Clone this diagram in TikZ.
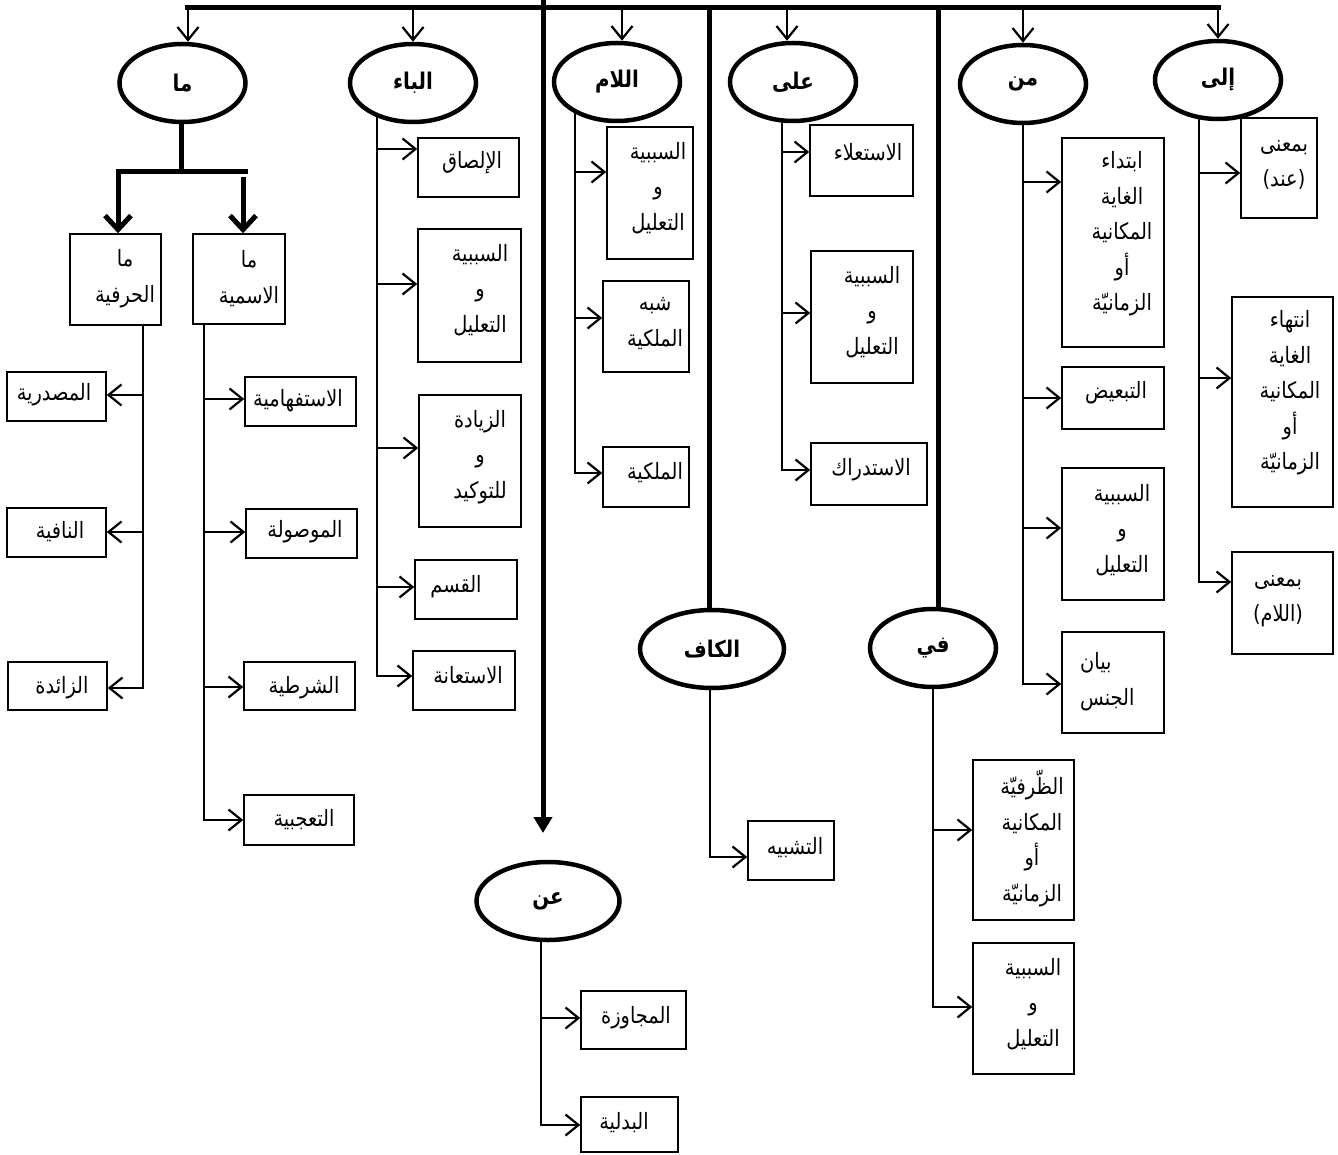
\documentclass[tikz,border=0pt]{standalone}
\usepackage{fontspec}
\usetikzlibrary{shapes.geometric,arrows.meta,backgrounds}
\TeXXeTstate=1
\newfontfamily\arabicfont[Script=Arabic,FakeStretch=0.86]{DejaVu Sans}
\newcommand\AR[1]{\beginR#1\endR}
\newcommand\mkbox[5]{\node[box, minimum width={(#4-#2)*1pt}, minimum height={(#5-#3)*1pt}] (#1) at ({(#2+#4)/2},{(#3+#5)/2}) {};}
% arrow from trunk coordinate #1 to west side of box #2, shifted up by #3
\newcommand\brR[3]{\coordinate (tmp) at ([yshift=#3pt]#2.west); \draw[conn] (tmp -| #1) -- (tmp);}
\newcommand\brL[3]{\coordinate (tmp) at ([yshift=#3pt]#2.east); \draw[conn] (tmp -| #1) -- (tmp);}
\newcommand\brRend[4]{\coordinate (tmp) at ([yshift=#4pt]#3.west); \draw[conn] (#1) |- (tmp);}
\newcommand\brLend[4]{\coordinate (tmp) at ([yshift=#4pt]#3.east); \draw[conn] (#1) |- (tmp);}
\tikzset{
 lemma/.style={ellipse, draw, line width=4.5pt, fill=white, minimum width=126pt, minimum height=78pt, inner sep=0pt, font=\arabicfont\bfseries\fontsize{23}{26}\selectfont},
 box/.style={draw, line width=1.5pt, inner sep=0pt, fill=white},
 lbl/.style={font=\arabicfont\fontsize{22.5}{35.5}\selectfont, align=center, inner sep=0pt},
 conn/.style={line width=2pt, -{Straight Barb[length=13pt,width=21pt,line width=2.2pt]}},
 thk/.style={line width=5pt},
 thkarr/.style={line width=5pt, -{Straight Barb[length=14pt,width=26pt,line width=5pt]}},
 fillarr/.style={line width=5pt, -{Triangle[length=16pt,width=18pt]}},
}
\begin{document}
\begin{tikzpicture}[x=1pt,y=-1pt]
\useasboundingbox (0,0) rectangle (1338,1155);
% ---- ellipses
\node[lemma] (ma) at (182.5,83) {\AR{ما}};
\node[lemma] (baa) at (413,83) {\AR{الباء}};
\node[lemma] (lam) at (617,82) {\AR{اللام}};
\node[lemma] (ala) at (793,82) {\AR{على}};
\node[lemma] (min) at (1023,84) {\AR{من}};
\node[lemma] (ila) at (1218,80) {\AR{إلى}};
\node[lemma, minimum width=144pt] (kaf) at (712,649) {\AR{الكاف}};
\node[lemma] (fi) at (933,648) {\AR{في}};
\node[lemma, minimum width=143pt] (an) at (548,901) {\AR{عن}};
% ---- boxes
\mkbox{hrf}{70}{234}{161}{325}
\mkbox{ism}{193}{234}{285}{324}
\mkbox{masd}{7}{372}{106}{421}
\mkbox{nafy}{7}{508}{106}{557}
\mkbox{zaid}{8}{662}{107}{710}
\mkbox{istf}{245}{377}{356}{426}
\mkbox{mawl}{246}{509}{357}{558}
\mkbox{shrt}{244}{662}{355}{710}
\mkbox{taaj}{244}{795}{354}{845}
\mkbox{ilsq}{418}{138}{519}{197}
\mkbox{bsab}{418}{229}{521}{362}
\mkbox{zyd}{419}{395}{521}{527}
\mkbox{qsm}{415}{560}{517}{619}
\mkbox{istn}{413}{651}{515}{710}
\mkbox{lsab}{607}{127}{693}{259}
\mkbox{shbh}{603}{281}{689}{372}
\mkbox{mlk}{603}{447}{689}{507}
\mkbox{istl}{810}{125}{913}{196}
\mkbox{asab}{811}{251}{913}{383}
\mkbox{istd}{811}{443}{927}{505}
\mkbox{ibtd}{1062}{138}{1164}{347}
\mkbox{tbd}{1062}{367}{1164}{429}
\mkbox{msab}{1062}{468}{1164}{600}
\mkbox{bayn}{1062}{632}{1164}{733}
\mkbox{inda}{1241}{118}{1317}{218}
\mkbox{intha}{1232}{297}{1333}{507}
\mkbox{llam}{1232}{552}{1333}{654}
\mkbox{tshb}{748}{821}{834}{880}
\mkbox{zrf}{973}{760}{1074}{920}
\mkbox{fsab}{973}{943}{1074}{1074}
\mkbox{mjwz}{581}{991}{686}{1049}
\mkbox{bdl}{581}{1097}{678}{1152}
% ---- labels
\node[lbl] at (125,278.5) {\AR{ما}\\\AR{الحرفية}};
\node[lbl] at (249,278.5) {\AR{ما}\\\AR{الاسمية}};
\node[lbl] at (54,395) {\AR{المصدرية}};
\node[lbl] at (60,532) {\AR{النافية}};
\node[lbl] at (62,688) {\AR{الزائدة}};
\node[lbl] at (298,401) {\AR{الاستفهامية}};
\node[lbl] at (305,532) {\AR{الموصولة}};
\node[lbl] at (304,688) {\AR{الشرطية}};
\node[lbl] at (304,820) {\AR{التعجبية}};
\node[lbl] at (472,163) {\AR{الإلصاق}};
\node[lbl] at (480,290) {\AR{السببية}\\\AR{و}\\\AR{التعليل}};
\node[lbl] at (480,457) {\AR{الزيادة}\\\AR{و}\\\AR{للتوكيد}};
\node[lbl] at (456,587) {\AR{القسم}};
\node[lbl] at (468,675) {\AR{الاستعانة}};
\node[lbl] at (658,188) {\AR{السببية}\\\AR{و}\\\AR{التعليل}};
\node[lbl] at (655,323.5) {\AR{شبه}\\\AR{الملكية}};
\node[lbl] at (655,473) {\AR{الملكية}};
\node[lbl] at (868,152) {\AR{الاستعلاء}};
\node[lbl] at (872,312) {\AR{السببية}\\\AR{و}\\\AR{التعليل}};
\node[lbl] at (871,470) {\AR{الاستدراك}};
\node[lbl] at (1122,234) {\AR{ابتداء}\\\AR{الغاية}\\\AR{المكانية}\\\AR{أو}\\\AR{الزمانيّة}};
\node[lbl] at (1116,393) {\AR{التبعيض}};
\node[lbl] at (1122,530) {\AR{السببية}\\\AR{و}\\\AR{التعليل}};
\node[lbl, align=left, anchor=west] at (1080,681.5) {\AR{بيان}\\\AR{الجنس}};
\node[lbl] at (1284,165) {\AR{بمعنى}\\\AR{(عند)}};
\node[lbl] at (1290,393) {\AR{انتهاء}\\\AR{الغاية}\\\AR{المكانية}\\\AR{أو}\\\AR{الزمانيّة}};
\node[lbl] at (1278,601) {\AR{بمعنى}\\\AR{(اللام)}};
\node[lbl] at (795,848) {\AR{التشبيه}};
\node[lbl] at (1032,838.5) {\AR{الظّرفيّة}\\\AR{المكانية}\\\AR{أو}\\\AR{الزمانيّة}};
\node[lbl] at (1033,1004) {\AR{السببية}\\\AR{و}\\\AR{التعليل}};
\node[lbl] at (636,1018) {\AR{المجاوزة}};
\node[lbl] at (624,1123) {\AR{البدلية}};
% ---- connectors
\begin{pgfonlayer}{background}
\coordinate (barL) at (185,8);
\coordinate (barR) at (1221,8);
\coordinate (topin) at (543,-5);
\coordinate (antip) at (543,833);
\draw[thk] (barL) -- (barR);
\draw[fillarr] (topin) -- (antip);
\draw[thk] ([xshift=-3pt]kaf.north |- barL) -- ([xshift=-3pt]kaf.north);
\draw[thk] ([xshift=5pt]fi.north |- barL) -- ([xshift=5pt]fi.north);
\draw[conn] ([xshift=5.5pt]ma.north |- barL) -- ([xshift=5.5pt]ma.north);
\draw[conn] (baa.north |- barL) -- (baa.north);
\draw[conn] ([xshift=5pt]lam.north |- barL) -- ([xshift=5pt]lam.north);
\draw[conn] ([xshift=-6pt]ala.north |- barL) -- ([xshift=-6pt]ala.north);
\draw[conn] (min.north |- barL) -- (min.north);
\draw[conn] (ila.north |- barL) -- (ila.north);
% ma
\coordinate (mabar) at (181,172);
\coordinate (mabarR) at (248,172);
\draw[thk] (ma.south -| mabar) -- (mabar);
\draw[thkarr] (mabarR) -- (mabar -| 118,0) -- ([xshift=2.5pt]hrf.north);
\draw[thkarr] ([xshift=4pt,yshift=-5pt]ism.north |- mabar) -- ([xshift=4pt]ism.north);
\coordinate (tH) at (143,0);
\coordinate (tI) at (204,0);
\coordinate (sH) at (hrf.south -| tH);
\coordinate (sI) at (ism.south -| tI);
\brL{tH}{masd}{1.5}
\brL{tH}{nafy}{0.5}
\brLend{sH}{tH}{zaid}{-2}
\brR{tI}{istf}{2.5}
\brR{tI}{mawl}{1.5}
\brR{tI}{shrt}{-1}
\brRend{sI}{tI}{taaj}{0}
% baa
\coordinate (tB) at (377,0);
\coordinate (sB) at (baa.center -| tB);
\brR{tB}{ilsq}{18.5}
\brR{tB}{bsab}{11.5}
\brR{tB}{zyd}{13}
\brR{tB}{qsm}{2.5}
\brRend{sB}{tB}{istn}{4.5}
% lam
\coordinate (tL) at (575,0);
\coordinate (sL) at (lam.center -| tL);
\brR{tL}{lsab}{21}
\brR{tL}{shbh}{8.5}
\brRend{sL}{tL}{mlk}{4}
% ala
\coordinate (tA) at (782,0);
\coordinate (sA) at (ala.center -| tA);
\brR{tA}{istl}{8.5}
\brR{tA}{asab}{4}
\brRend{sA}{tA}{istd}{4}
% min
\coordinate (tM) at (1023,0);
\coordinate (sM) at (min.center -| tM);
\brR{tM}{ibtd}{60.5}
\brR{tM}{tbd}{0}
\brR{tM}{msab}{6}
\brRend{sM}{tM}{bayn}{-1.5}
% ila
\coordinate (tE) at (1199,0);
\coordinate (sE) at (ila.center -| tE);
\brR{tE}{inda}{-5}
\brR{tE}{intha}{24}
\brRend{sE}{tE}{llam}{21}
% kaf
\coordinate (tK) at (710,0);
\coordinate (sK) at (kaf.center -| tK);
\brRend{sK}{tK}{tshb}{-6.5}
% fi
\coordinate (tF) at (933,0);
\coordinate (sF) at (fi.center -| tF);
\brR{tF}{zrf}{10}
\brRend{sF}{tF}{fsab}{1.5}
% an
\coordinate (tN) at (541,0);
\coordinate (sN) at (an.center -| tN);
\brR{tN}{mjwz}{2}
\brRend{sN}{tN}{bdl}{-0.5}
\end{pgfonlayer}
\end{tikzpicture}
\end{document}
